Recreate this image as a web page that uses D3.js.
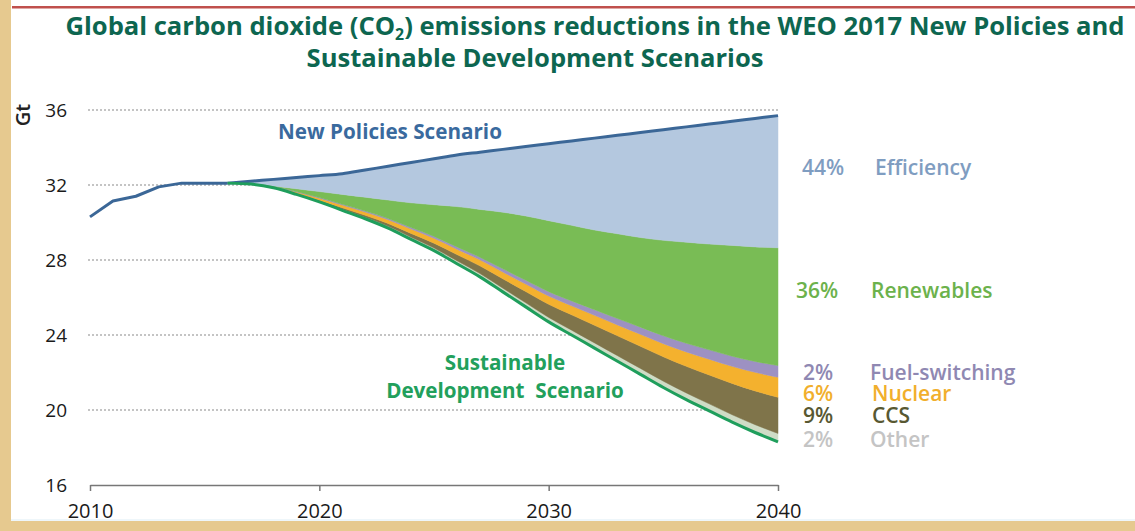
<!DOCTYPE html>
<html><head><meta charset="utf-8">
<script src="https://cdn.jsdelivr.net/npm/d3@7/dist/d3.min.js"></script>
<style>body{margin:0;background:#fff;} svg{display:block;}</style>
</head><body><svg id="c" width="1135" height="531"></svg>
<script>
// ---------------- data ----------------
const histYears  = [2010, 2011, 2012, 2013, 2014, 2015, 2016];
const histValues = [30.3, 31.15, 31.4, 31.9, 32.1, 32.1, 32.1];

const projYears = [2016,2017,2018,2019,2020,2021,2022,2023,2024,2025,2026,2027,2028,
                   2029,2030,2031,2032,2033,2034,2035,2036,2037,2038,2039,2040];
// Sustainable Development Scenario emissions (Gt)
const sdsValues = [32.10,32.05,31.85,31.50,31.10,30.65,30.20,29.70,29.10,28.50,27.80,27.10,26.30,
                   25.50,24.70,24.00,23.30,22.60,21.90,21.20,20.55,19.95,19.35,18.80,18.30];
// Abatement wedges (Gt) stacked from the SDS line up to the New Policies line
const otherValues      = [0,0,0,0.02,0.04,0.06,0.08,0.10,0.12,0.14,0.16,0.18,0.20,
                          0.22,0.24,0.26,0.28,0.30,0.32,0.34,0.36,0.38,0.40,0.42,0.45];
const ccsValues        = [0,0,0.01,0.03,0.05,0.08,0.11,0.15,0.20,0.26,0.33,0.41,0.50,
                          0.60,0.70,0.82,0.94,1.06,1.18,1.30,1.42,1.54,1.67,1.80,1.93];
const nuclearValues    = [0,0.02,0.05,0.08,0.11,0.14,0.17,0.20,0.23,0.26,0.29,0.32,0.36,
                          0.40,0.44,0.48,0.53,0.58,0.64,0.70,0.77,0.84,0.91,0.99,1.07];
const fuelSwitchValues = [0,0,0.01,0.02,0.03,0.04,0.05,0.06,0.08,0.10,0.12,0.14,0.17,
                          0.20,0.23,0.26,0.30,0.34,0.38,0.42,0.46,0.50,0.54,0.58,0.62];
const renewablesValues = [0,0.02,0.03,0.15,0.32,0.53,0.74,0.99,1.32,1.69,2.15,2.55,3.02,
                          3.43,3.79,4.03,4.25,4.52,4.78,5.09,5.39,5.64,5.91,6.11,6.28];
const efficiencyValues = [0,0.11,0.35,0.60,0.85,1.10,1.45,1.80,2.15,2.45,2.75,3.05,3.35,
                          3.70,4.10,4.50,4.90,5.25,5.60,5.90,6.15,6.40,6.62,6.85,7.05];

const wedgeKeys   = ["other","ccs","nuclear","fuel","renewables","efficiency"];
const wedgeNames  = ["Other","CCS","Nuclear","Fuel-switching","Renewables","Efficiency"];
const wedgeShares = ["2%","9%","6%","2%","36%","44%"];

const xTicks = [2010, 2020, 2030, 2040];
const yTicks = [16, 20, 24, 28, 32, 36];

const titleLine1a = "Global carbon dioxide (CO";
const titleSub    = "2";
const titleLine1b = ") emissions reductions in the WEO 2017 New Policies and";
const titleLine2  = "Sustainable Development Scenarios";
const npsLabel    = "New Policies Scenario";
const sdsLabel    = ["Sustainable", "Development  Scenario"];
const yUnit       = "Gt";

// ---------------- styles / layout ----------------
const fills = {other:"#cfdcc6", ccs:"#7f744a", nuclear:"#f4b12e", fuel:"#9d91c2",
               renewables:"#79bc55", efficiency:"#b4c8df"};
const labelColors = {other:"#c4c4c4", ccs:"#585832", nuclear:"#f1af2c", fuel:"#8f88b2",
                     renewables:"#6cb24c", efficiency:"#7f9dc1"};
const labelBaselines = {efficiency:175, renewables:298, fuel:380, nuclear:401, ccs:423, other:447};
const labelPctX  = {efficiency:802, renewables:796, fuel:803, nuclear:803, ccs:803, other:803};
const labelNameX = {efficiency:875, renewables:871, fuel:870, nuclear:872, ccs:872, other:870};

const svg = d3.select("#c");
const W = 1135, H = 531;

// frame decorations
svg.append("rect").attr("width",W).attr("height",H).attr("fill","#fff");
svg.append("rect").attr("x",0).attr("y",0).attr("width",11).attr("height",H).attr("fill","#e6c98f");
svg.append("rect").attr("x",0).attr("y",521).attr("width",W).attr("height",10).attr("fill","#e6c98f");
svg.append("rect").attr("x",11).attr("y",519).attr("width",W).attr("height",2).attr("fill","#eef6fa");
svg.append("rect").attr("x",12).attr("y",6).attr("width",W-12).attr("height",2.5).attr("fill","#c0504d");

// scales
const x = d3.scaleLinear().domain([2010, 2040]).range([90, 778]);
const y = d3.scaleLinear().domain([16, 36]).range([485, 110]);

const boldFont  = "'Open Sans', 'DejaVu Sans', sans-serif";
const labelFont = "'Open Sans', 'DejaVu Sans', sans-serif";

function fitWidth(sel, base, target) {
  const w = sel.node().getComputedTextLength();
  return base * target / w;
}

// title
const t1 = svg.append("text").attr("x", 595).attr("y", 35).attr("text-anchor","middle")
  .attr("font-family", boldFont).attr("font-weight", 700).attr("font-size", 24).attr("fill","#0d6650");
t1.append("tspan").text(titleLine1a);
const subSpan = t1.append("tspan").text(titleSub).attr("font-size", 15).attr("dy", 5);
t1.append("tspan").text(titleLine1b).attr("dy", -5);
const t2 = svg.append("text").attr("x", 535).attr("y", 67).attr("text-anchor","middle")
  .attr("font-family", boldFont).attr("font-weight", 700).attr("font-size", 24).attr("fill","#0d6650")
  .text(titleLine2);
const fsTitle = fitWidth(t1, 24, 1060);
t1.attr("font-size", fsTitle); subSpan.attr("font-size", fsTitle * 0.62);
t2.attr("font-size", fsTitle);

// gridlines
svg.append("g").selectAll("line").data(yTicks.filter(v => v > 16)).join("line")
  .attr("x1", 88).attr("x2", 778).attr("y1", d => y(d)).attr("y2", d => y(d))
  .attr("stroke", "#8a8a8a").attr("stroke-width", 1.2).attr("stroke-dasharray", "2,2");

// stacked wedges
const rows = projYears.map((yr, i) => ({
  year: yr, sds: sdsValues[i], other: otherValues[i], ccs: ccsValues[i], nuclear: nuclearValues[i],
  fuel: fuelSwitchValues[i], renewables: renewablesValues[i], efficiency: efficiencyValues[i]
}));
const stacked = d3.stack().keys(wedgeKeys)(rows);
const area = d3.area()
  .x(d => x(d.data.year))
  .y0(d => y(d.data.sds + d[0]))
  .y1(d => y(d.data.sds + d[1]))
  .curve(d3.curveMonotoneX);
svg.append("g").selectAll("path").data(stacked).join("path")
  .attr("d", area).attr("fill", d => fills[d.key])
  .attr("stroke", d => fills[d.key]).attr("stroke-width", 0.5);

// lines
const line = d3.line().x(d => x(d[0])).y(d => y(d[1])).curve(d3.curveMonotoneX);
const lineLin = d3.line().x(d => x(d[0])).y(d => y(d[1]));
const topLayer = stacked[stacked.length - 1];
svg.append("path").attr("d", lineLin(histYears.map((yr, i) => [yr, histValues[i]]))).attr("fill","none")
  .attr("stroke","#3b6797").attr("stroke-width",3).attr("stroke-linejoin","round");
svg.append("path").attr("d", line(topLayer.map(d => [d.data.year, d.data.sds + d[1]]))).attr("fill","none")
  .attr("stroke","#3b6797").attr("stroke-width",3);
svg.append("path").attr("d", line(projYears.map((yr,i)=>[yr, sdsValues[i]]))).attr("fill","none")
  .attr("stroke","#1f9e5c").attr("stroke-width",3);

// axes
const xAxis = svg.append("g").attr("transform", `translate(0,${y(16)})`)
  .call(d3.axisBottom(x).tickValues(xTicks).tickFormat(d3.format("d")).tickSize(6).tickSizeOuter(0).tickPadding(13));
xAxis.select(".domain").attr("stroke","#777").attr("stroke-width",1.5);
xAxis.selectAll(".tick line").attr("stroke","#777").attr("stroke-width",1.5);
xAxis.selectAll("text").attr("font-family", labelFont).attr("font-size", 20).attr("fill","#1a1a1a");

const yAxis = svg.append("g").attr("transform", "translate(88,0)")
  .call(d3.axisLeft(y).tickValues(yTicks).tickSize(0).tickPadding(21));
yAxis.select(".domain").remove();
yAxis.selectAll("text").attr("font-family", labelFont).attr("font-size", 19).attr("fill","#1a1a1a");

svg.append("text").attr("transform","translate(30,115) rotate(-90)").attr("text-anchor","middle")
  .attr("font-family", labelFont).attr("font-weight",600).attr("font-size",20).attr("fill","#222")
  .text(yUnit);

// scenario labels
const npsT = svg.append("text").attr("x", 390).attr("y", 139).attr("text-anchor","middle")
  .attr("font-family", boldFont).attr("font-weight",700).attr("font-size",19).attr("fill","#3a6a9e")
  .text(npsLabel);
npsT.attr("font-size", fitWidth(npsT, 19, 224));
const sdsT = svg.append("g").selectAll("text").data(sdsLabel).join("text")
  .attr("x", 505).attr("y", (d,i) => 370 + i*28).attr("text-anchor","middle")
  .attr("font-family", boldFont).attr("font-weight",700).attr("font-size",19).attr("fill","#22a05c")
  .style("white-space","pre")
  .text(d => d);
const fsSds = fitWidth(d3.select(sdsT.nodes()[1]), 19, 238);
sdsT.attr("font-size", fsSds);

// wedge labels
const lab = svg.append("g").selectAll("g").data(wedgeKeys).join("g");
lab.append("text").attr("x", d => labelPctX[d]).attr("y", d => labelBaselines[d])
  .attr("font-family", labelFont).attr("font-weight",600).attr("font-size",21)
  .attr("fill", d => labelColors[d]).text((d,i) => wedgeShares[i]);
lab.append("text").attr("x", d => labelNameX[d]).attr("y", d => labelBaselines[d])
  .attr("font-family", labelFont).attr("font-weight",600).attr("font-size",21)
  .attr("fill", d => labelColors[d]).text((d,i) => wedgeNames[i]);
</script>
</body></html>
